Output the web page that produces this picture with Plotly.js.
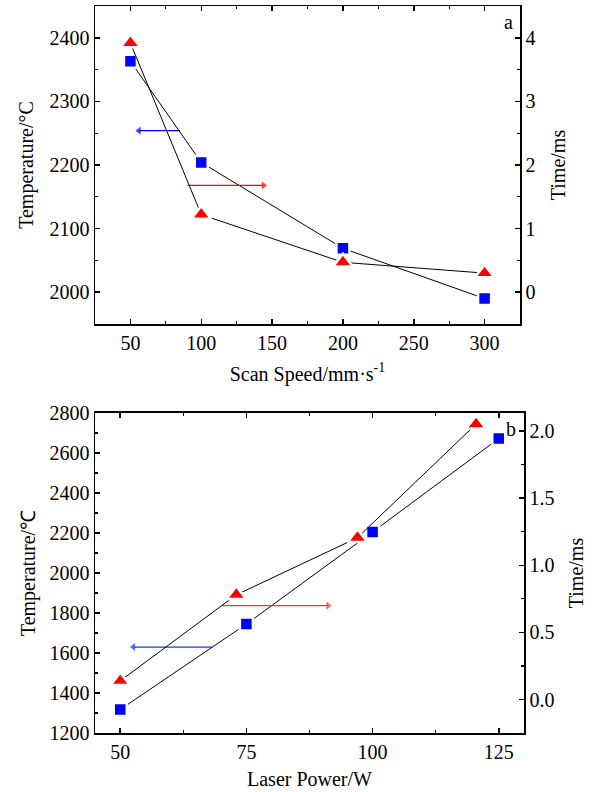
<!DOCTYPE html>
<html>
<head>
<meta charset="utf-8">
<script src="https://cdn.plot.ly/plotly-3.0.1.min.js"></script>
<style>html,body{margin:0;padding:0;background:#fff;}#chart{width:592px;height:792px;}</style>
</head>
<body>
<div id="chart"></div>
<script>
// ---- data (a): scan speed ----
const scanSpeed = [50, 100, 200, 300];
const tempA = [2363, 2204, 2069, 1990];
const timeA = [3.92, 1.22, 0.47, 0.30];

// ---- data (b): laser power ----
const powerTemp = [50, 75, 100, 125];
const tempB = [1318, 1745, 2205, 2672];
const powerTime = [50, 73, 97, 120.5];
const timeB = [0.14, 0.78, 1.205, 2.05];

// ---- axis-pointer arrows (tail x, head x, level) ----
const arrowTempA = {x: [85, 56], y: 2254};
const arrowTimeA = {x: [90.3, 144], y: 1.68};
const arrowTempB = {x: [68.2, 52.6], y: 1630};
const arrowTimeB = {x: [70.1, 91.2], y: 0.70};

const FONT = '"Liberation Serif", "Times New Roman", serif';
const fs = 20;

function series(x, y, xa, ya, color, symbol, size) {
  return {
    x: x, y: y, xaxis: xa, yaxis: ya, type: 'scatter', mode: 'lines+markers',
    line: {color: '#000', width: 1},
    marker: {color: color, symbol: symbol, size: size, line: {color: '#fff', width: 2.5}},
    hoverinfo: 'x+y'
  };
}
function arrow(a, xa, ya, color, dir) {
  return {
    x: a.x, y: [a.y, a.y], xaxis: xa, yaxis: ya, type: 'scatter', mode: 'lines+markers',
    line: {color: color, width: 1.3},
    marker: {color: color, symbol: dir, size: [0, 7], line: {width: 0}},
    hoverinfo: 'skip'
  };
}

const traces = [
  arrow(arrowTempA, 'x', 'y', '#0000ff', 'triangle-left'),
  arrow(arrowTimeA, 'x', 'y2', '#ff0000', 'triangle-right'),
  arrow(arrowTempB, 'x2', 'y3', '#2030ff', 'triangle-left'),
  arrow(arrowTimeB, 'x2', 'y4', '#ff3030', 'triangle-right'),
  series(scanSpeed, tempA, 'x', 'y', '#0000ff', 'square', 13),
  series(scanSpeed, timeA, 'x', 'y2', '#ff0000', 'triangle-up', 17),
  series(powerTemp, tempB, 'x2', 'y3', '#0000ff', 'square', 13),
  series(powerTime, timeB, 'x2', 'y4', '#ff0000', 'triangle-up', 17)
];

function ax(extra) {
  return Object.assign({
    showline: true, linecolor: '#000', linewidth: 1.5,
    ticks: 'inside', ticklen: 5, tickwidth: 1.5, tickcolor: '#000',
    showgrid: false, zeroline: false,
    tickfont: {family: FONT, size: fs, color: '#000'}
  }, extra);
}
function ttl(text, standoff) {
  return {text: text, font: {family: FONT, size: fs, color: '#000'}, standoff: standoff};
}
const minor = (d) => ({ticks: 'inside', ticklen: 3, tickwidth: 1.2, tickcolor: '#000', dtick: d, showgrid: false});

const W = 592, H = 792;
const layout = {
  width: W, height: H,
  margin: {l: 0, r: 0, t: 0, b: 0},
  paper_bgcolor: '#fff', plot_bgcolor: '#fff',
  showlegend: false,
  xaxis: ax({domain: [95 / W, 520 / W], anchor: 'y', range: [25, 325], tick0: 50, dtick: 50,
    mirror: 'ticks', minor: minor(25), title: ttl('Scan Speed/mm·s<sup>-1</sup>', 14)}),
  yaxis: ax({domain: [(H - 324) / H, (H - 6) / H], anchor: 'x', range: [1950, 2450], dtick: 100,
    minor: minor(50), title: ttl('Temperature/°C', 10)}),
  yaxis2: ax({overlaying: 'y', side: 'right', anchor: 'x', range: [-0.5, 4.5], dtick: 1,
    minor: minor(0.5), title: ttl('Time/ms', 16)}),
  xaxis2: ax({domain: [95 / W, 524 / W], anchor: 'y3', range: [45, 130], tick0: 50, dtick: 25,
    mirror: 'ticks', minor: minor(12.5), title: ttl('Laser Power/W', 10)}),
  yaxis3: ax({domain: [(H - 733.3) / H, (H - 412.7) / H], anchor: 'x2', range: [1199, 2801], dtick: 200,
    minor: minor(100), title: ttl('Temperature/℃', 8)}),
  yaxis4: ax({overlaying: 'y3', side: 'right', anchor: 'x2', range: [-0.25, 2.135], dtick: 0.5,
    tickformat: '.1f', minor: minor(0.25), title: ttl('Time/ms', 15)}),
  annotations: [
    {xref: 'paper', yref: 'paper', x: 508 / W, y: (H - 22) / H, xanchor: 'center', yanchor: 'middle',
      text: 'a', showarrow: false, font: {family: FONT, size: fs, color: '#000'}},
    {xref: 'paper', yref: 'paper', x: 511 / W, y: (H - 429) / H, xanchor: 'center', yanchor: 'middle',
      text: 'b', showarrow: false, font: {family: FONT, size: fs, color: '#000'}}
  ]
};

Plotly.newPlot('chart', traces, layout, {displayModeBar: false, staticPlot: true});
</script>
</body>
</html>
